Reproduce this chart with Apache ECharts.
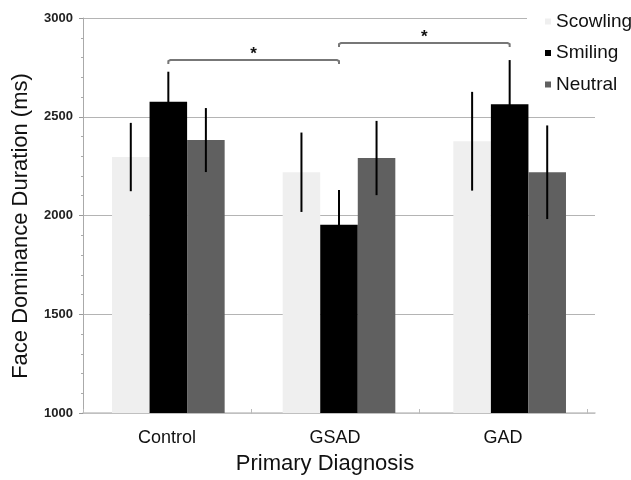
<!DOCTYPE html>
<html>
<head>
<meta charset="utf-8">
<style>html,body{margin:0;padding:0;background:#fff;}#c{width:631px;height:480px;}</style>
<script src="https://cdn.jsdelivr.net/npm/echarts@6/dist/echarts.min.js"></script>
</head>
<body>
<div id="c"></div>
<script>
const categories = ['Control', 'GSAD', 'GAD'];
const seriesNames = ['Scowling', 'Smiling', 'Neutral'];
const scowling = [2296, 2219, 2376];
const smiling = [2576, 1953, 2563];
const neutral = [2382, 2291, 2219];
const scowlingErr = [173, 201, 250];
const smilingErr = [152, 176, 224];
const neutralErr = [162, 188, 237];
const yTicks = [1000, 1500, 2000, 2500, 3000];
// significance brackets: [fromCategoryIndex, toCategoryIndex, yValue]
const brackets = [[0, 1, 2787], [1, 2, 2873]];

const FONT = "'Liberation Sans', Arial, Helvetica, sans-serif";
const colors = ['#efefef', '#000000', '#606060'];
const CAT_GAP = 0.34;

const values = [scowling, smiling, neutral];
const errs = [scowlingErr, smilingErr, neutralErr];
const errData = [];
values.forEach((arr, k) => arr.forEach((v, i) => {
  errData.push([i, v - errs[k][i], v + errs[k][i], k]);
}));

const chart = echarts.init(document.getElementById('c'), null, {renderer: 'canvas'});
chart.setOption({
  animation: false,
  backgroundColor: '#fff',
  textStyle: {fontFamily: FONT},
  grid: [
    {left: 83, right: 36, top: 18, bottom: 67, containLabel: false},
    {left: 83, right: 44, top: 18, bottom: 67, containLabel: false}
  ],
  legend: {
    data: seriesNames,
    orient: 'vertical',
    left: 527,
    top: 10,
    padding: [2, 0, 2, 18],
    backgroundColor: '#fff',
    icon: 'rect',
    itemWidth: 6,
    itemHeight: 6,
    itemGap: 12.5,
    textStyle: {fontSize: 19, color: '#111', fontFamily: FONT}
  },
  xAxis: [
    {
      type: 'category', gridIndex: 0, data: categories,
      axisLine: {show: true, lineStyle: {color: '#c4c4c4', width: 1.5}},
      axisTick: {show: false}, axisLabel: {show: false}, splitLine: {show: false}
    },
    {
      type: 'category', gridIndex: 1, data: categories,
      axisLine: {show: false},
      axisTick: {show: true, length: 5, lineStyle: {color: '#bbbbbb'}},
      axisLabel: {show: true, fontSize: 18, color: '#111', margin: 20, fontFamily: FONT},
      name: 'Primary Diagnosis', nameLocation: 'middle', nameGap: 44,
      nameTextStyle: {fontSize: 22, color: '#111', fontFamily: FONT, padding: [0, 20, 0, 0]}
    }
  ],
  yAxis: [
    {
      type: 'value', gridIndex: 0, min: yTicks[0], max: yTicks[yTicks.length - 1], interval: 500,
      axisLine: {show: true, lineStyle: {color: '#aaaaaa', width: 1}},
      axisTick: {show: true, length: 4, lineStyle: {color: '#999'}},
      minorTick: {show: true, splitNumber: 5, length: 2, lineStyle: {color: '#aaa'}},
      axisLabel: {fontSize: 13, fontWeight: 'bold', color: '#222', margin: 10, fontFamily: FONT,
        formatter: function (v) { return String(v); }},
      splitLine: {show: true, lineStyle: {color: '#b4b4b4', width: 1.2}},
      name: 'Face Dominance Duration (ms)', nameLocation: 'middle', nameGap: 51, nameRotate: 90,
      nameTextStyle: {fontSize: 22, color: '#111', fontFamily: FONT, padding: [0, 21, 0, 0]}
    },
    {
      type: 'value', gridIndex: 1, min: yTicks[0], max: yTicks[yTicks.length - 1], interval: 500,
      show: false
    }
  ],
  series: [
    ...seriesNames.map((n, k) => ({
      name: n, type: 'bar', xAxisIndex: 0, yAxisIndex: 0,
      data: values[k], barGap: '0%', barCategoryGap: (CAT_GAP * 100) + '%',
      itemStyle: {color: colors[k]}
    })),
    {
      type: 'custom', name: 'errors', xAxisIndex: 0, yAxisIndex: 0, z: 5,
      data: errData,
      renderItem: function (params, api) {
        const cat = api.value(0), lo = api.value(1), hi = api.value(2), k = api.value(3);
        const pHi = api.coord([cat, hi]);
        const pLo = api.coord([cat, lo]);
        const band = api.size([1, 0])[0];
        const bw = band * (1 - CAT_GAP) / 3;
        const x = pHi[0] + (k - 1) * bw;
        return {
          type: 'line',
          shape: {x1: x, y1: pHi[1], x2: x, y2: pLo[1]},
          style: {stroke: '#000', lineWidth: 2}
        };
      }
    },
    {
      type: 'custom', name: 'brackets', xAxisIndex: 0, yAxisIndex: 0, z: 5,
      data: brackets,
      renderItem: function (params, api) {
        const a = api.coord([api.value(0), api.value(2)]);
        const b = api.coord([api.value(1), api.value(2)]);
        const y = a[1];
        return {
          type: 'group',
          children: [
            {
              type: 'polyline',
              shape: {points: [[a[0], y + 4], [a[0], y + 1], [a[0] + 2, y], [b[0] - 2, y], [b[0], y + 1], [b[0], y + 4]]},
              style: {stroke: '#777', lineWidth: 2, fill: null}
            },
            {
              type: 'text',
              x: (a[0] + b[0]) / 2, y: y + 3,
              style: {text: '*', fontSize: 17, fontWeight: 'bold', fill: '#111', align: 'center', verticalAlign: 'bottom', fontFamily: FONT}
            }
          ]
        };
      }
    }
  ]
});
</script>
</body>
</html>
